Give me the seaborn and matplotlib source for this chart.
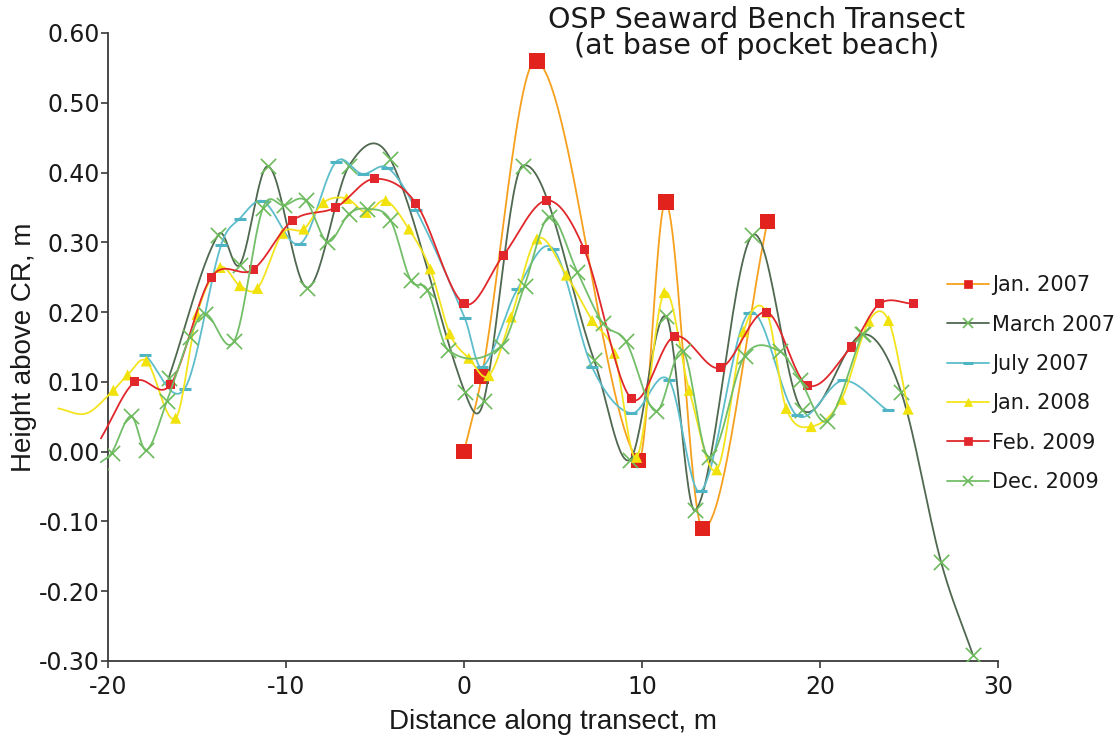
import numpy as np
import pandas as pd
import matplotlib
matplotlib.use("Agg")
import matplotlib.pyplot as plt
import seaborn as sns
from matplotlib.lines import Line2D
from matplotlib.ticker import FormatStrFormatter

# ---------------- data ----------------
series_names = ["Jan. 2007", "March 2007", "July 2007", "Jan. 2008", "Feb. 2009", "Dec. 2009"]

jan07_x = [0.0, 1.0, 4.1, 9.8, 11.35, 13.4, 17.05]
jan07_y = [0.000, 0.108, 0.560, -0.013, 0.358, -0.110, 0.330]

mar07_x = [-16.6, -13.8, -12.6, -11.0, -8.8, -6.45, -4.15, 0.05, 1.1, 3.3, 7.3,
           9.3, 11.35, 13.0, 16.2, 19.0, 22.4, 24.55, 26.8, 28.6]
mar07_y = [0.105, 0.311, 0.268, 0.409, 0.235, 0.410, 0.420, 0.085, 0.072, 0.410, 0.132,
           -0.012, 0.194, -0.084, 0.310, 0.060, 0.168, 0.086, -0.158, -0.292]

jul07_x = [-17.9, -15.7, -13.65, -12.6, -11.3, -9.2, -7.2, -5.7, -4.3, -2.7, 0.05, 1.0,
           3.0, 5.0, 7.2, 9.4, 11.5, 13.3, 16.0, 18.7, 21.3, 23.8]
jul07_y = [0.138, 0.090, 0.296, 0.334, 0.359, 0.298, 0.415, 0.398, 0.407, 0.347, 0.191, 0.121,
           0.233, 0.291, 0.121, 0.055, 0.103, -0.057, 0.199, 0.052, 0.102, 0.059]

jan08_x = [-22.8, -21.2, -19.7, -18.9, -17.85, -16.2, -15.0, -13.7, -12.6, -11.6, -10.2, -9.0,
           -7.9, -6.6, -5.5, -4.4, -3.1, -1.9, -0.8, 0.27, 1.4, 2.65, 4.1, 5.75, 7.2, 8.45,
           9.7, 11.25, 12.65, 14.2, 15.7, 17.0, 18.1, 19.5, 21.2, 22.75, 23.85, 24.95]
jan08_y = [0.062, 0.055, 0.088, 0.110, 0.130, 0.048, 0.197, 0.264, 0.238, 0.234, 0.313, 0.319,
           0.357, 0.363, 0.343, 0.360, 0.319, 0.262, 0.169, 0.134, 0.109, 0.193, 0.305, 0.253,
           0.188, 0.141, -0.008, 0.228, 0.088, -0.026, 0.172, 0.200, 0.062, 0.036, 0.075,
           0.187, 0.188, 0.061]

feb09_x = [-20.4, -18.5, -16.5, -14.2, -11.85, -9.65, -7.2, -5.05, -2.7, 0.0, 2.2, 4.65,
           6.75, 9.4, 11.8, 14.4, 17.0, 19.3, 21.75, 23.35, 25.25]
feb09_y = [0.019, 0.100, 0.096, 0.250, 0.261, 0.331, 0.350, 0.391, 0.356, 0.212, 0.281, 0.360,
           0.290, 0.076, 0.165, 0.120, 0.200, 0.095, 0.150, 0.212, 0.212]

dec09_x = [-20.4, -19.8, -18.7, -17.85, -16.7, -15.4, -14.55, -12.9, -11.3, -10.1, -8.9,
           -7.67, -6.45, -5.45, -4.14, -3.0, -2.06, -0.9, 2.08, 3.4, 4.8, 6.36, 7.8, 9.1,
           10.78, 12.3, 13.76, 15.77, 17.75, 18.88, 20.4, 22.36]
dec09_y = [-0.015, -0.002, 0.051, 0.002, 0.072, 0.165, 0.198, 0.159, 0.349, 0.353, 0.360,
           0.301, 0.341, 0.348, 0.332, 0.246, 0.232, 0.146, 0.151, 0.238, 0.337, 0.258, 0.184,
           0.158, 0.058, 0.144, -0.008, 0.137, 0.144, 0.103, 0.044, 0.168]

x_ticks = [-20, -10, 0, 10, 20, 30]
y_ticks = [-0.30, -0.20, -0.10, 0.00, 0.10, 0.20, 0.30, 0.40, 0.50, 0.60]

title_text = "OSP Seaward Bench Transect\n(at base of pocket beach)"
x_label = "Distance along transect, m"
y_label = "Height above CR, m"

# ---------------- styles ----------------
styles = {
    "Jan. 2007": dict(line="#F6A01E", mk="s", mc="#E2231D", ms=11, lw=1.3, mew=0, leg_ms=6),
    "March 2007": dict(line="#4F684F", mk="x", mc="#6DBB5C", ms=11, lw=1.3, mew=1.2, leg_ms=7),
    "July 2007": dict(line="#5DBDCB", mk="_", mc="#4FB4C4", ms=8, lw=1.3, mew=2.2, leg_ms=7),
    "Jan. 2008": dict(line="#F3E41E", mk="^", mc="#F1E20C", ms=8, lw=1.3, mew=0, leg_ms=6),
    "Feb. 2009": dict(line="#E1272B", mk="s", mc="#E1272B", ms=6.5, lw=1.3, mew=0, leg_ms=6),
    "Dec. 2009": dict(line="#72BE69", mk="x", mc="#6DBB5C", ms=11, lw=1.3, mew=1.2, leg_ms=7),
}
data = {
    "Jan. 2007": (jan07_x, jan07_y),
    "March 2007": (mar07_x, mar07_y),
    "July 2007": (jul07_x, jul07_y),
    "Jan. 2008": (jan08_x, jan08_y),
    "Feb. 2009": (feb09_x, feb09_y),
    "Dec. 2009": (dec09_x, dec09_y),
}


def smooth_curve(x, y, n=30):
    """Cardinal (Catmull-Rom) cubic Hermite smoothing through the data points."""
    x = np.asarray(x, float)
    y = np.asarray(y, float)
    m = np.empty_like(y)
    m[1:-1] = (y[2:] - y[:-2]) / (x[2:] - x[:-2])
    m[0] = (y[1] - y[0]) / (x[1] - x[0])
    m[-1] = (y[-1] - y[-2]) / (x[-1] - x[-2])
    xs, ys = [x[:1]], [y[:1]]
    t = np.linspace(0, 1, n)[1:]
    for i in range(len(x) - 1):
        h = x[i + 1] - x[i]
        h00 = 2 * t ** 3 - 3 * t ** 2 + 1
        h10 = t ** 3 - 2 * t ** 2 + t
        h01 = -2 * t ** 3 + 3 * t ** 2
        h11 = t ** 3 - t ** 2
        xs.append(x[i] + t * h)
        ys.append(h00 * y[i] + h10 * h * m[i] + h01 * y[i + 1] + h11 * h * m[i + 1])
    return np.concatenate(xs), np.concatenate(ys)


# ---------------- figure ----------------
sns.set_theme(style="white")
plt.rcParams["font.family"] = ["DejaVu Sans"]
plt.rcParams["axes.unicode_minus"] = False

W, H = 1117, 736
fig = plt.figure(figsize=(W / 100, H / 100), dpi=100)
fig.patch.set_facecolor("white")
ax = fig.add_axes([108 / W, 1 - 661 / H, 890 / W, 628 / H])

for k, name in enumerate(series_names):
    x, y = data[name]
    st = styles[name]
    cx, cy = smooth_curve(x, y)
    df = pd.DataFrame({"x": cx, "y": cy})
    sns.lineplot(data=df, x="x", y="y", sort=False, estimator=None, color=st["line"],
                 linewidth=st["lw"], ax=ax, clip_on=False, zorder=2 + k, legend=False)
    pts = pd.DataFrame({"x": x, "y": y})
    if st["mk"] in ("x", "_"):
        sns.scatterplot(data=pts, x="x", y="y", marker=st["mk"], s=st["ms"] ** 2,
                        color=st["mc"], linewidth=st["mew"], ax=ax, zorder=2.5 + k, legend=False)
    else:
        sns.scatterplot(data=pts, x="x", y="y", marker=st["mk"], s=st["ms"] ** 2,
                        color=st["mc"], edgecolor="none", linewidth=0, ax=ax,
                        zorder=2.5 + k, legend=False)

ax.set_xlim(-20, 30)
ax.set_ylim(-0.30, 0.60)
ax.set_xticks(x_ticks)
ax.set_yticks(y_ticks)
ax.yaxis.set_major_formatter(FormatStrFormatter("%.2f"))
ax.xaxis.set_major_formatter(FormatStrFormatter("%d"))

for s in ["top", "right"]:
    ax.spines[s].set_visible(False)
for s in ["left", "bottom"]:
    ax.spines[s].set_color("#3a3a3a")
    ax.spines[s].set_linewidth(1.3)
ax.tick_params(axis="both", which="major", direction="out", length=5, width=1.2,
               color="#3a3a3a", labelsize=17, labelcolor="#1a1a1a")
ax.tick_params(axis="x", pad=5, bottom=True)
ax.tick_params(axis="y", pad=1, left=True)

label_font = dict(family=["Liberation Sans", "DejaVu Sans"], size=20, color="#1a1a1a")
ax.set_xlabel(x_label, fontdict=label_font, labelpad=7)
ax.set_ylabel(y_label, fontdict=label_font, labelpad=1)

fig.text(0.677, 0.992, title_text, ha="center", va="top", fontsize=20.5,
         linespacing=0.92, color="#1a1a1a")

handles = []
for name in series_names:
    st = styles[name]
    handles.append(Line2D([], [], color=st["line"], lw=1.3, marker=st["mk"],
                          markersize=st["leg_ms"], markerfacecolor=st["mc"],
                          markeredgecolor=st["mc"],
                          markeredgewidth=(st["mew"] if st["mew"] > 0 else 0.5)))
fig.legend(handles, series_names, loc="upper left", bbox_to_anchor=(0.848, 0.626),
           frameon=False, fontsize=15, handlelength=2.0, handletextpad=0.15,
           labelspacing=0.93, borderpad=0, borderaxespad=0, labelcolor="#1a1a1a")

fig.savefig("out.png", dpi=100, facecolor="white")
